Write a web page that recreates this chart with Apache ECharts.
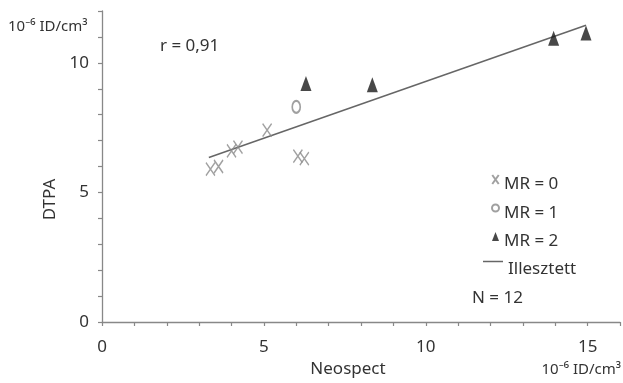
<!DOCTYPE html>
<html>
<head>
<meta charset="utf-8">
<script src="https://cdn.jsdelivr.net/npm/echarts@6/dist/echarts.min.js"></script>
<style>
html, body { margin: 0; padding: 0; background: #fff; }
#chart { width: 623px; height: 383px; }
</style>
</head>
<body>
<div id="chart"></div>
<script>
// pontok (Neospect, DTPA), 10^-6 ID/cm3
const mr0 = [[3.35, 5.9], [3.6, 6.0], [4.0, 6.6], [4.2, 6.75], [5.1, 7.4], [6.05, 6.4], [6.25, 6.3]];
const mr1 = [[6.0, 8.3]];
const mr2 = [[6.3, 9.2], [8.35, 9.15], [13.95, 10.95], [14.95, 11.15]];
const fitLine = [[3.3, 6.35], [14.95, 11.45]];
const xTickLabels = [0, 5, 10, 15];
const yTickLabels = [0, 5, 10];

const font = "'Noto Sans', sans-serif";
const textColor = "#333";
const axisColor = "#888";

let myChart = echarts.init(document.getElementById("chart"));
myChart.setOption({
  animation: false,
  grid: {
    left: 102,
    right: 1,
    top: 11,
    bottom: 54
  },
  xAxis: {
    type: "value",
    min: 0,
    max: 16,
    interval: 1,
    name: "Neospect",
    nameLocation: "middle",
    nameGap: 39,
    nameTextStyle: { fontSize: 17, color: textColor, fontFamily: font, padding: [0, 26, 0, 0] },
    splitLine: { show: false },
    axisLine: { lineStyle: { color: axisColor, width: 1.3 } },
    axisTick: { length: 4, lineStyle: { color: axisColor, width: 1.2 } },
    axisLabel: {
      margin: 17,
      fontSize: 17,
      color: textColor,
      fontFamily: font,
      formatter: v => (xTickLabels.includes(v) ? String(v) : "")
    }
  },
  yAxis: {
    type: "value",
    min: 0,
    max: 12,
    interval: 1,
    name: "DTPA",
    nameLocation: "middle",
    nameRotate: 90,
    nameGap: 38,
    nameTextStyle: { fontSize: 17, color: textColor, fontFamily: font, padding: [0, 66, 0, 0] },
    splitLine: { show: false },
    axisLine: { lineStyle: { color: axisColor, width: 1.3 } },
    axisTick: { length: 4, lineStyle: { color: axisColor, width: 1.2 } },
    axisLabel: {
      margin: 13,
      fontSize: 17,
      color: textColor,
      fontFamily: font,
      formatter: v => (yTickLabels.includes(v) ? String(v) : "")
    }
  },
  legend: [
    {
      data: ["MR = 0", "MR = 1", "MR = 2"],
      orient: "vertical",
      left: 491,
      top: 166,
      padding: 0,
      itemWidth: 7,
      itemHeight: 9,
      itemGap: 1.5,
      selectedMode: false,
      formatter: "{a|{name}}",
      textStyle: {
        rich: { a: { fontSize: 17, lineHeight: 18, color: textColor, fontFamily: font, padding: [10, 0, 0, 0] } }
      }
    },
    {
      data: [{ name: "Illesztett", icon: "rect" }],
      orient: "vertical",
      left: 483,
      top: 245,
      padding: 0,
      itemWidth: 20,
      itemHeight: 1.5,
      selectedMode: false,
      formatter: "{a|{name}}",
      textStyle: {
        rich: { a: { fontSize: 17, lineHeight: 18, color: textColor, fontFamily: font, padding: [16, 0, 0, 0] } }
      }
    }
  ],
  graphic: [
    {
      type: "text",
      left: 8,
      top: 19,
      style: { text: "10⁻⁶ ID/cm³", fontSize: 15, fill: textColor, fontFamily: font }
    },
    {
      type: "text",
      right: 2,
      top: 362,
      style: { text: "10⁻⁶ ID/cm³", fontSize: 15, fill: textColor, fontFamily: font }
    },
    {
      type: "text",
      left: 160,
      top: 38,
      style: { text: "r = 0,91", fontSize: 17, fill: textColor, fontFamily: font }
    },
    {
      type: "text",
      left: 472,
      top: 290,
      style: { text: "N = 12", fontSize: 17, fill: textColor, fontFamily: font }
    }
  ],
  series: [
    {
      name: "Illesztett",
      type: "line",
      data: fitLine,
      symbol: "none",
      color: "#666",
      lineStyle: { color: "#666", width: 1.5 },
      z: 1
    },
    {
      name: "MR = 0",
      type: "scatter",
      data: mr0,
      symbol: "path://M0,0L10,14M10,0L0,14",
      symbolSize: [9, 13],
      itemStyle: { color: "transparent", borderColor: "#8a8a8a", borderWidth: 1.5 },
      z: 3
    },
    {
      name: "MR = 1",
      type: "scatter",
      data: mr1,
      symbol: "emptyCircle",
      symbolSize: [8, 12],
      itemStyle: { color: "#888", borderColor: "#888", borderWidth: 1.3 },
      z: 3
    },
    {
      name: "MR = 2",
      type: "scatter",
      data: mr2,
      symbol: "triangle",
      symbolSize: [11, 15],
      itemStyle: { color: "#1a1a1a" },
      z: 3
    }
  ]
});
</script>
</body>
</html>
